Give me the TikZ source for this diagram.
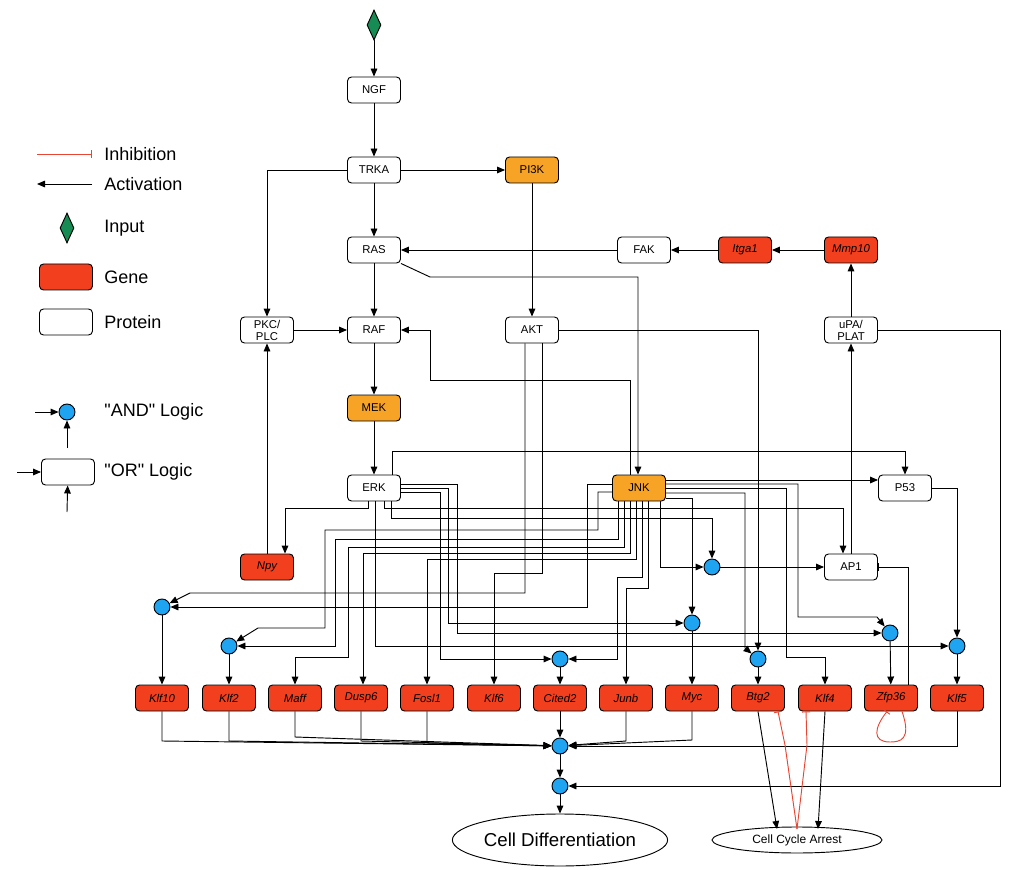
\documentclass[tikz,border=0pt]{standalone}
\usepackage{fontspec}
\setmainfont{Liberation Sans}
\newfontfamily\legfont{Liberation Sans}
\usepackage{tikz}
\usetikzlibrary{arrows.meta,shapes.geometric}
\definecolor{genered}{RGB}{242,64,30}
\definecolor{kinorange}{RGB}{247,163,38}
\definecolor{andblue}{RGB}{30,164,240}
\definecolor{inpgreen}{RGB}{22,140,84}
\definecolor{inhred}{RGB}{232,70,50}

\begin{document}
\begin{tikzpicture}[x=0.75pt,y=-0.75pt,line width=0.7pt,
  prot/.style={draw,rounded corners=3pt,minimum width=39.75pt,minimum height=19.5pt,
    inner sep=1pt,align=center,font=\fontsize{8.5}{9}\selectfont},
  gene/.style={prot,fill=genered,font=\fontsize{8.5}{9}\selectfont\itshape},
  kin/.style={prot,fill=kinorange},
  andg/.style={circle,draw,fill=andblue,minimum size=12pt,inner sep=0pt},
  inp/.style={diamond,draw,fill=inpgreen,minimum width=10.5pt,minimum height=22.5pt,inner sep=0pt},
  act/.style={-{Triangle[length=6pt,width=5pt]}},
  inhk/.style={-{Bar[width=6pt]}},
  inhr/.style={draw=inhred,-{Bar[width=6pt]}},
  lbl/.style={anchor=west,inner sep=0pt,font=\legfont\fontsize{13.5}{15}\selectfont},
  outc/.style={ellipse,draw,inner sep=0pt}]
\useasboundingbox (0,0) rectangle (1011,870);

% legend
\coordinate (leg-inh-a) at (37,154);
\coordinate (leg-inh-b) at (92,154);
\coordinate (leg-act-a) at (92,184);
\coordinate (leg-act-b) at (37,184);
\draw[inhr] (leg-inh-a) -- (leg-inh-b);
\draw[act] (leg-act-a) -- (leg-act-b);
\node[inp] (leg-inp) at (67,228) {};
\node[gene] (leg-gene) at (66,277) {};
\node[prot] (leg-prot) at (66,322) {};
\node[andg] (leg-and) at (67,412) {};
\node[prot] (leg-or) at (68,472) {};
\coordinate (leg-and-l) at (35,412);
\coordinate (leg-and-b) at (67,448);
\coordinate (leg-or-l) at (17,472);
\coordinate (leg-or-b) at (67,512);
\draw[act] (leg-and-l) -- (leg-and);
\draw[act] (leg-and-b) -- (leg-and);
\draw[act] (leg-or-l) -- (leg-or);
\draw[act] (leg-or-b) -- (leg-or);
\node[lbl] (lbl-inh) at (104,154) {Inhibition};
\node[lbl] (lbl-act) at (104,184) {Activation};
\node[lbl] (lbl-inp) at (104,228) {Input};
\node[lbl] (lbl-gene) at (104,277) {Gene};
\node[lbl] (lbl-prot) at (104,322) {Protein};
\node[lbl] (lbl-and) at (104,412) {"AND" Logic};
\node[lbl] (lbl-or) at (104,472) {"OR" Logic};

% signalling nodes
\node[inp] (ngfin) at (374,25) {};
\node[prot] (ngf) at (374,90) {NGF};
\node[prot] (trka) at (374,170) {TRKA};
\node[kin] (pi3k) at (532,170) {PI3K};
\node[prot] (ras) at (374,250) {RAS};
\node[prot] (fak) at (644,250) {FAK};
\node[gene] (itga1) at (745,250) {Itga1};
\node[gene] (mmp10) at (851,250) {Mmp10};
\node[prot] (pkc) at (267,330) {PKC/\\PLC};
\node[prot] (raf) at (374,330) {RAF};
\node[prot] (akt) at (532,330) {AKT};
\node[prot] (upa) at (851,330) {uPA/\\PLAT};
\node[kin] (mek) at (374,408) {MEK};
\node[prot] (erk) at (374,488) {ERK};
\node[kin] (jnk) at (639,488) {JNK};
\node[prot] (p53) at (905,488) {P53};
\node[gene] (npy) at (267,567) {Npy};
\node[prot] (ap1) at (851,567) {AP1};

% and gates
\node[andg] (and-ap1) at (712,567) {};
\node[andg] (and-klf10) at (162,607) {};
\node[andg] (and-klf2) at (229,646) {};
\node[andg] (and-myc) at (692,623) {};
\node[andg] (and-cited2) at (560,659) {};
\node[andg] (and-btg2) at (758,659) {};
\node[andg] (and-zfp36) at (890,633) {};
\node[andg] (and-klf5) at (957,646) {};
\node[andg] (and-diff1) at (560,746) {};
\node[andg] (and-diff2) at (560,786) {};

% target genes
\foreach \n/\t/\x in {klf10/Klf10/162,klf2/Klf2/229,maff/Maff/295,dusp6/Dusp6/361,
    fosl1/Fosl1/427,klf6/Klf6/494,cited2/Cited2/560,junb/Junb/626,myc/Myc/692,
    btg2/Btg2/758,klf4/Klf4/825,zfp36/Zfp36/891,klf5/Klf5/957}
  \node[gene] (\n) at (\x,698) {\t};

\node[outc,minimum width=154.5pt,minimum height=39pt,font=\fontsize{14}{16}\selectfont]
  (diff) at (560,840) {Cell Differentiation};
\node[outc,minimum width=127.5pt,minimum height=19.5pt,font=\fontsize{9}{10}\selectfont]
  (arrest) at (797,840) {Cell Cycle Arrest};

% upstream
\draw[act] (ngfin) -- (ngf);
\draw[act] (ngf) -- (trka);
\draw[act] (trka) -- (ras);
\draw[act] (trka) -- (pi3k);
\draw[act] (trka.west) -| (pkc);
\draw[act] (pi3k) -- (akt);
\draw[act] (fak) -- (ras);
\draw[act] (itga1) -- (fak);
\draw[act] (mmp10) -- (itga1);
\draw[act] (upa) -- (mmp10);
\draw[act] (pkc) -- (raf);
\draw[act] (ras) -- (raf);
\draw[act] (raf) -- (mek);
\draw[act] (mek) -- (erk);
\draw[act] (npy) -- (pkc);
\draw[act] (ap1) -- (upa);
\draw[act] (ras.south east) -- (430,277) -- (638,277) -- (jnk.north -| 638,0);
\draw[act] (jnk.north -| 630,0) |- (430,380) |- (raf.east);
\draw[act] (upa.east) -| (1000,786) -- (and-diff2);

% ERK
\draw[act] (erk.north -| 392,0) |- (905,451) -- (p53.north);
\draw[act] (erk.south -| 368,0) |- (285,508) -- (npy.north -| 285,0);
\draw[act] (erk.south -| 391,0) |- (712,518) -- (and-ap1);
\draw[act] (erk.south -| 384,0) |- (843,508) -- (ap1.north -| 843,0);
\draw[act] (erk.east |- 0,484) -| (457,633) -- (and-zfp36);
\draw[act] (erk.east |- 0,488) -| (448,623) -- (and-myc);
\draw[act] (erk.east |- 0,492) -| (440,659) -- (and-cited2);
\draw[act] (erk.south -| 375,0) |- (and-klf5);

% JNK
\draw[act] (jnk.east |- 0,480) -- (p53.west |- 0,480);
\draw[act] (jnk.west |- 0,484) -| (587,607) -- (and-klf10);
\draw[act] (jnk.west |- 0,492) -| (598,530) -| (325,628) -- (258,628) -- (and-klf2);
\draw[act] (jnk.south -| 618,0) |- (335,539) |- (and-klf2);
\draw[act] (jnk.south -| 624,0) |- (348,547) |- (295,657) -- (maff);
\draw[act] (jnk.south -| 630,0) |- (363,553) -- (dusp6.north -| 363,0);
\draw[act] (jnk.south -| 636,0) |- (427,559) -- (fosl1);
\draw[act] (jnk.south -| 642,0) |- (617,577) |- (and-cited2);
\draw[act] (jnk.south -| 648,0) |- (626,588) -- (junb);
\draw[act] (jnk.south -| 660,0) |- (and-ap1);
\draw[act] (jnk.east |- 0,498) -| (and-myc);
\draw[act] (jnk.east |- 0,484) -| (798,617) -- (877,617) -- (and-zfp36);
\draw[act] (jnk.east |- 0,488) -| (786,657) -| (klf4);
\draw[act] (jnk.east |- 0,493) -| (745,648) -- (and-btg2);

% AKT
\draw[act] (akt.east) -| (and-btg2);
\draw[act] (akt.south -| 525,0) |- (190,593) -- (and-klf10);
\draw[act] (akt.south -| 542,0) |- (494,573) -- (klf6);

% P53, AP1
\draw[act] (p53.east) -| (and-klf5);
\draw[act] (and-ap1) -- (ap1);
\draw[inhk] (zfp36.north -| 908,0) |- (ap1.east);

% gates to genes
\foreach \n in {klf10,klf2,cited2,myc,btg2,zfp36,klf5}
  \draw[act] (and-\n) -- (\n);

% outputs
\foreach \n/\x/\y in {klf10/162/741,klf2/229/741,maff/295/737,dusp6/361/741,fosl1/427/743,
    junb/626/741,myc/692/740,klf5/957/746}
  \draw[act] (\n) -- (\x,\y) -- (and-diff1);
\draw[act] (cited2) -- (and-diff1);
\draw[act] (and-diff1) -- (and-diff2);
\draw[act] (and-diff2) -- (diff);
\draw[act] (btg2.south) -- (777,829);
\draw[act] (klf4.south) -- (818,829);
\draw[inhr] (797,829) -- (785,745) -- (btg2.south -| 778,0);
\draw[inhr] (797,829) -- (807,745) -- (klf4.south -| 806,0);
\draw[inhr] (zfp36.south -| 902,0) .. controls (912,740) and (900,742) .. (890,742)
  .. controls (872,742) and (874,728) .. (zfp36.south -| 887,0);
\end{tikzpicture}
\end{document}
